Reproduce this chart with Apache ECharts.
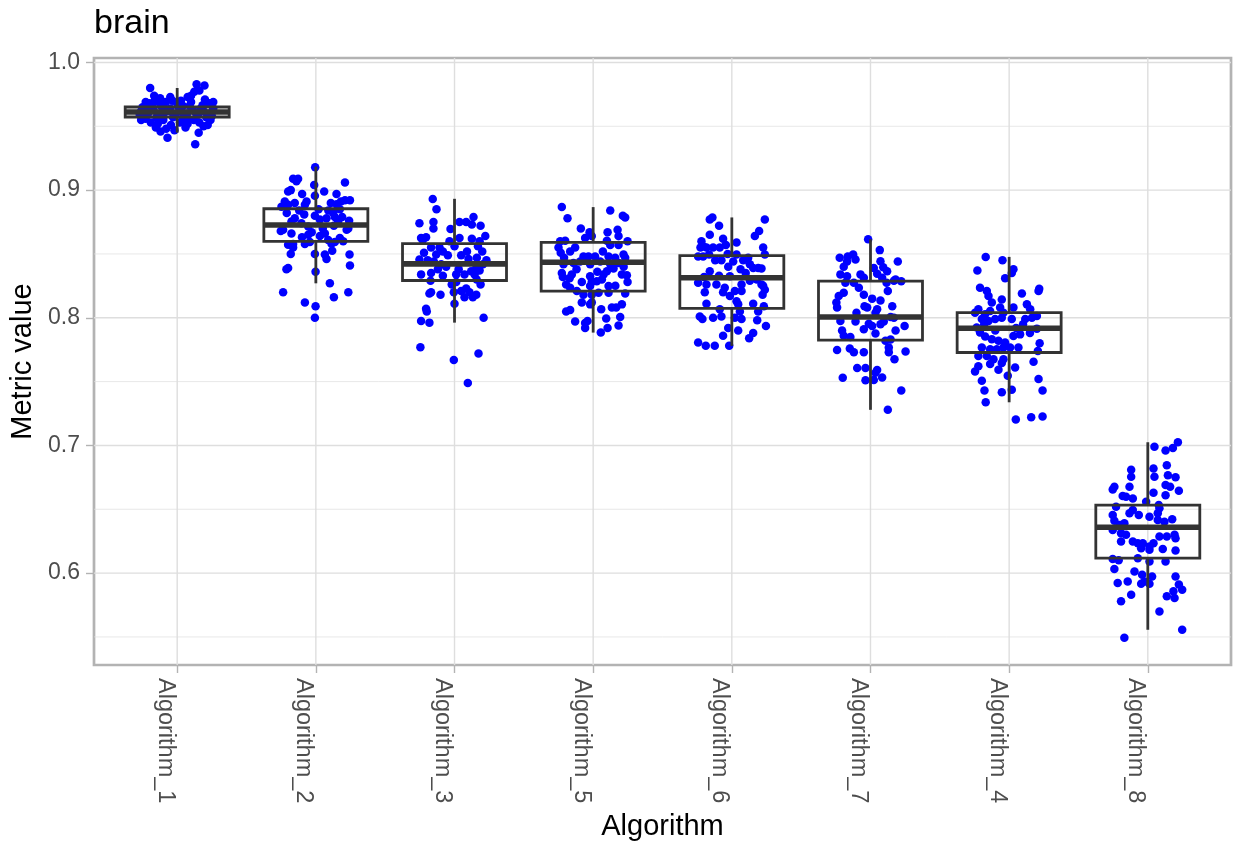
<!DOCTYPE html>
<html><head><meta charset="utf-8">
<script src="https://cdn.jsdelivr.net/npm/echarts@6/dist/echarts.min.js"></script>
<style>html,body{margin:0;padding:0;background:#fff}#chart{width:1235px;height:846px}</style>
</head><body><div id="chart"></div>
<script>
// ---------- data ----------
const chartTitle = 'brain';
const xTitle = 'Algorithm';
const yTitle = 'Metric value';
const categories = ['Algorithm_1','Algorithm_2','Algorithm_3','Algorithm_5','Algorithm_6','Algorithm_7','Algorithm_4','Algorithm_8'];
const yTicks = [0.6, 0.7, 0.8, 0.9, 1.0];
const yMinorTicks = [0.55, 0.65, 0.75, 0.85, 0.95];

// box statistics (lower whisker, Q1, median, Q3, upper whisker)
const boxMin    = [0.945, 0.827, 0.7962, 0.7884, 0.778, 0.7279, 0.7338, 0.5556];
const boxQ1     = [0.9573, 0.8599, 0.8292, 0.8209, 0.8074, 0.7825, 0.7728, 0.6117];
const boxMedian = [0.9612, 0.8727, 0.8422, 0.8435, 0.8313, 0.8006, 0.7918, 0.6359];
const boxQ3     = [0.9651, 0.8854, 0.8581, 0.8591, 0.8487, 0.8287, 0.8040, 0.6533];
const boxMax    = [0.980, 0.9184, 0.8932, 0.8867, 0.8786, 0.8615, 0.8477, 0.7025];

// jittered points: [horizontal jitter (category units), metric value]
const pts_Algorithm_1 = [[-0.195,0.980],[0.14,0.983],[0.197,0.982],[-0.166,0.974],[-0.123,0.972],[-0.135,0.969],[-0.227,0.969],[-0.25,0.965],[-0.07,0.941],[0.13,0.936],[0.155,0.945],[0.22,0.951],[0.16,0.953],[0.075,0.952],[0.04,0.955],[-0.045,0.951],[-0.08,0.948],[-0.12,0.946],[-0.154,0.949],[-0.19,0.953],[-0.227,0.956],[-0.034,0.970],[0.027,0.970],[0.075,0.973],[0.123,0.977],[0.16,0.978],[0.1,0.974],[0.231,0.968],[0.183,0.9665],[-0.082,0.969],[0.0,0.968],[0.04,0.966],
[-0.26,0.962],[-0.21,0.960],[-0.17,0.963],[-0.13,0.958],[-0.09,0.961],[-0.05,0.964],[-0.01,0.959],[0.03,0.962],[0.07,0.960],[0.11,0.963],[0.15,0.959],[0.19,0.962],[0.23,0.960],[0.26,0.964],[-0.24,0.958],[-0.18,0.966],[-0.11,0.965],[-0.03,0.957],[0.05,0.958],[0.09,0.966],[0.13,0.961],[0.21,0.957],[0.25,0.958],[-0.22,0.964],[-0.15,0.957],[-0.06,0.962],[0.01,0.965],[0.08,0.956],[0.17,0.964],[0.24,0.955],[-0.2,0.968],[-0.1,0.955],[0.02,0.953],[0.12,0.955],[0.19,0.950],[-0.26,0.955],[-0.14,0.952],[0.06,0.949],[-0.02,0.947],[0.2,0.971],[-0.05,0.973],[0.26,0.969],[-0.16,0.971],[0.1,0.969],[-0.27,0.959]];
const pts_Algorithm_2 = [[-0.005,0.918],[-0.164,0.909],[-0.128,0.909],[-0.14,0.907],[-0.181,0.900],[-0.2,0.899],[-0.012,0.904],[0.06,0.899],[0.21,0.906],[0.149,0.897],[-0.099,0.897],[-0.007,0.8955],[0.246,0.892],[0.21,0.892],[0.181,0.891],[0.149,0.889],[0.108,0.890],[-0.224,0.891],[-0.248,0.887],[-0.2,0.8885],[-0.152,0.890],[-0.079,0.8885],[-0.067,0.891],[-0.253,0.868],[-0.176,0.866],[-0.236,0.869],
[-0.007,0.880],[0.029,0.877],[0.077,0.878],[0.125,0.882],[0.173,0.885],[0.137,0.879],[-0.152,0.878],[-0.176,0.8755],[-0.104,0.874],[-0.055,0.8716],[-0.084,0.881],[0.161,0.8755],[0.222,0.869],[0.173,0.8625],[0.197,0.860],[0.137,0.8594],[0.234,0.870],
[-0.2,0.8573],[-0.164,0.8578],[-0.079,0.8578],[-0.043,0.8594],[-0.055,0.865],[0.029,0.864],[0.065,0.866],[0.113,0.858],[0.089,0.861],[-0.181,0.850],[-0.164,0.855],[-0.007,0.850],[0.065,0.8495],[0.077,0.846],[0.118,0.8526],[0.243,0.8495],[0.246,0.841],[-0.2,0.839],[-0.212,0.838],
[-0.002,0.836],[0.101,0.827],[-0.236,0.820],[0.13,0.816],[0.234,0.820],[-0.079,0.812],[-0.002,0.809],[-0.007,0.800],
[0.02,0.885],[0.09,0.884],[-0.12,0.884],[0.19,0.879],[-0.03,0.867],[0.05,0.870],[0.13,0.872],[-0.1,0.863],[0.24,0.876],[-0.21,0.882]];
const pts_Algorithm_3 = [[-0.157,0.893],[-0.13,0.885],[-0.253,0.874],[-0.152,0.875],[-0.152,0.870],[0.036,0.875],[0.084,0.875],[0.137,0.879],[0.125,0.873],[0.188,0.872],[-0.029,0.8695],[0.222,0.864],[-0.241,0.8625],[-0.205,0.863],[-0.229,0.861],
[-0.036,0.860],[0.036,0.8625],[0.125,0.862],[0.181,0.860],[0.169,0.856],[-0.169,0.855],[-0.108,0.855],[-0.084,0.852],[-0.132,0.8495],[-0.048,0.849],
[-0.253,0.8456],[-0.193,0.845],[-0.149,0.844],[-0.096,0.842],[0.048,0.849],[0.101,0.846],[0.161,0.847],[0.205,0.842],[0.157,0.839],[0.12,0.8365],
[-0.241,0.834],[-0.169,0.835],[-0.084,0.833],[0.012,0.834],[0.072,0.834],[0.145,0.834],[0.181,0.837],
[-0.173,0.829],[0.012,0.828],[0.188,0.826],[0.084,0.823],[0.048,0.821],[0.108,0.820],[-0.005,0.820],[-0.169,0.820],[-0.181,0.819],[-0.101,0.818],[0.157,0.818],[0.072,0.816],[0.132,0.816],
[0,0.811],[-0.205,0.807],[-0.2,0.805],[-0.241,0.7975],[-0.181,0.7962],[0.21,0.800],[-0.246,0.777],[-0.005,0.767],[0.173,0.772],[0.096,0.749],
[0.2,0.852],[-0.06,0.840],[0.03,0.838],[-0.12,0.838],[0.09,0.852],[0.16,0.830],[-0.22,0.851],[0.0,0.856],[-0.02,0.826],[0.23,0.845]];
const pts_Algorithm_5 = [[-0.226,0.8867],[-0.185,0.878],[0.123,0.884],[0.214,0.880],[0.231,0.8786],[-0.089,0.870],[-0.026,0.867],[-0.01,0.864],[-0.058,0.8625],[0.104,0.867],[0.176,0.869],[0.183,0.864],
[-0.238,0.860],[-0.202,0.8604],[0.099,0.8604],[0.248,0.860],[0.123,0.857],[0.183,0.857],
[-0.25,0.855],[-0.234,0.851],[-0.13,0.855],[-0.166,0.852],[-0.21,0.847],[-0.07,0.848],[-0.034,0.848],[0.014,0.848],[0.111,0.848],[0.159,0.847],[0.231,0.847],[0.219,0.8495],
[-0.214,0.842],[-0.142,0.843],[-0.094,0.844],[-0.022,0.842],[0.051,0.844],[0.123,0.842],[0.183,0.843],[0.147,0.8386],
[-0.226,0.835],[-0.219,0.832],[-0.154,0.834],[-0.022,0.8326],[0.099,0.8365],[0.075,0.834],[0.207,0.834],[0.248,0.828],[0.243,0.8334],
[-0.082,0.828],[-0.01,0.828],[0.026,0.8287],[0.063,0.830],[0.111,0.8248],[-0.022,0.8248],
[-0.195,0.826],[-0.166,0.8235],[-0.118,0.821],[-0.07,0.818],[-0.01,0.818],[0.039,0.8196],[0.111,0.8196],[0.231,0.819],
[-0.082,0.812],[-0.022,0.8105],[0.058,0.8066],[0.135,0.808],[0.166,0.808],[0.207,0.8105],[-0.195,0.805],[-0.166,0.806],
[-0.13,0.797],[-0.058,0.796],[-0.041,0.7975],[-0.058,0.792],[0.094,0.7994],[0.195,0.8007],[0.183,0.794],[0.104,0.792],[0.055,0.7885],[-0.01,0.812],
[0.07,0.852],[-0.12,0.838],[0.03,0.836],[0.16,0.825],[-0.17,0.831],[0.22,0.840]];
const pts_Algorithm_6 = [[-0.159,0.877],[-0.14,0.8786],[0.238,0.877],[-0.092,0.872],[0.197,0.868],[0.166,0.864],[-0.159,0.865],
[-0.219,0.860],[-0.207,0.856],[-0.226,0.855],[-0.183,0.855],[-0.135,0.855],[-0.087,0.855],[-0.063,0.862],[-0.043,0.857],[0.034,0.859],[0.226,0.855],[0.238,0.8495],
[0.034,0.8495],[0.082,0.845],[0.118,0.847],[0.13,0.842],[0.154,0.839],[0.19,0.839],[0.214,0.8386],[-0.207,0.848],[-0.243,0.848],[-0.164,0.8495],
[-0.075,0.845],[-0.026,0.840],[0.01,0.844],[0.063,0.838],[-0.159,0.8365],[-0.092,0.833],[-0.014,0.8326],[0.13,0.829],
[-0.243,0.8274],[-0.183,0.826],[-0.111,0.826],[-0.051,0.8235],[0.022,0.821],[0.226,0.825],[0.238,0.822],[0.222,0.818],[0.214,0.826],
[-0.195,0.820],[-0.063,0.820],[-0.014,0.817],[0.07,0.821],[-0.183,0.811],[0.034,0.813],[0.046,0.8105],[0.058,0.805],[0.154,0.811],[0.231,0.809],[-0.087,0.8066],[0.19,0.805],
[-0.231,0.801],[-0.212,0.799],[-0.135,0.800],[-0.075,0.801],[0.022,0.800],[0.07,0.799],[0.183,0.798],[0.246,0.7936],
[-0.026,0.792],[0.046,0.790],[-0.063,0.786],[0.154,0.788],[0.125,0.784],[-0.243,0.7806],[-0.188,0.778],[-0.123,0.778],[-0.019,0.778],
[0.1,0.835],[-0.03,0.850],[0.18,0.830],[-0.12,0.845],[0.07,0.826],[-0.2,0.832]];
const pts_Algorithm_7 = [[-0.017,0.8615],[0.067,0.853],[-0.222,0.847],[-0.164,0.848],[-0.125,0.8495],[-0.108,0.8456],[-0.193,0.840],[-0.169,0.844],
[0.197,0.844],[0.072,0.8443],[0.024,0.839],[0.092,0.8396],[0.12,0.8365],[-0.217,0.834],[-0.169,0.8326],[-0.072,0.834],[-0.048,0.8313],[0.048,0.8344],[0.084,0.8313],
[0.181,0.830],[0.222,0.8287],[0.116,0.8274],[0.169,0.829],[-0.181,0.8274],[-0.12,0.8274],[-0.084,0.8235],[0.125,0.821],
[-0.193,0.8196],[-0.229,0.817],[-0.246,0.812],[-0.241,0.808],[-0.048,0.818],[0.012,0.815],[0.072,0.8136],[-0.043,0.809],[0.157,0.809],[0.048,0.8066],[0.036,0.804],[-0.024,0.808],
[-0.101,0.804],[0.145,0.8006],[0.096,0.797],[0.169,0.800],[0.246,0.7936],[0.181,0.790],[-0.217,0.7975],[-0.108,0.797],[-0.012,0.7954],[-0.048,0.791],[0.012,0.7936],[0.072,0.795],
[-0.205,0.790],[-0.193,0.786],[-0.145,0.785],[0.036,0.7876],[0.145,0.783],[0.108,0.782],
[-0.241,0.7747],[-0.149,0.776],[-0.12,0.773],[-0.048,0.773],[0.132,0.7767],[0.132,0.773],[0.253,0.7736],
[0.173,0.7676],[-0.096,0.7606],[-0.036,0.7606],[0.048,0.759],[0.036,0.757],[-0.2,0.753],[-0.036,0.751],[0.024,0.7513],[0.084,0.7533],[0.222,0.743],[0.125,0.7279]];
const pts_Algorithm_4 = [[-0.169,0.8477],[-0.048,0.845],[-0.229,0.837],[0.031,0.838],[0.019,0.835],[-0.029,0.831],
[-0.21,0.8235],[-0.161,0.821],[-0.149,0.817],[-0.125,0.812],[-0.053,0.8144],[0.217,0.8227],[0.212,0.821],[0.092,0.819],
[-0.222,0.8066],[-0.246,0.804],[-0.173,0.8027],[-0.137,0.8053],[-0.065,0.808],[-0.041,0.804],[0.031,0.808],[0.128,0.8105],[0.152,0.8066],
[-0.197,0.799],[-0.149,0.7975],[-0.101,0.799],[-0.053,0.800],[0.019,0.799],[0.116,0.799],[0.164,0.800],[0.2,0.8014],
[-0.21,0.7884],[-0.173,0.7853],[-0.125,0.7832],[-0.077,0.782],[-0.029,0.7806],[0.031,0.7858],[0.079,0.787],[-0.234,0.7923],[0.2,0.7915],
[-0.197,0.7767],[-0.137,0.7754],[-0.089,0.7754],[-0.041,0.7767],[0.007,0.7767],[0.067,0.7767],
[-0.222,0.770],[-0.161,0.770],[-0.113,0.7676],[-0.041,0.7676],[-0.053,0.7645],[-0.137,0.7637],[-0.077,0.7593],[-0.222,0.762],[-0.246,0.758],
[0.176,0.7656],[0.043,0.761],[-0.01,0.7546],[0.207,0.774],[-0.197,0.7507],[-0.178,0.743],[-0.053,0.7416],[0.019,0.7437],[0.241,0.743],[0.212,0.752],[-0.169,0.7338],
[0.048,0.7203],[0.159,0.722],[0.241,0.7227],
[0.1,0.795],[-0.1,0.790],[0.15,0.788],[-0.18,0.795],[0.05,0.792],[0.22,0.780]];
const pts_Algorithm_8 = [[0.217,0.7025],[0.181,0.698],[0.128,0.696],[0.048,0.699],[0.137,0.6845],[-0.12,0.681],[-0.12,0.6754],[0.041,0.682],[0.048,0.6754],[0.145,0.6767],[0.2,0.675],
[-0.241,0.6676],[-0.253,0.6655],[-0.132,0.6676],[0.041,0.663],[0.128,0.669],[0.161,0.6676],[0.224,0.6645],[0.128,0.661],
[-0.181,0.6603],[-0.157,0.6598],[-0.108,0.6585],[-0.012,0.6559],[0.079,0.6533],
[-0.229,0.652],[-0.253,0.6455],[-0.241,0.641],[-0.253,0.6338],[-0.205,0.6377],[-0.169,0.639],[-0.132,0.6468],[-0.108,0.6494],[-0.065,0.6455],
[0.012,0.6442],[0.072,0.6468],[0.072,0.6416],[0.12,0.6403],[0.176,0.6421],[0.084,0.6507],
[-0.193,0.6312],[-0.157,0.630],[-0.108,0.6247],[-0.072,0.6234],[-0.036,0.6234],[0.012,0.6208],[0.041,0.6234],[0.084,0.6286],[0.137,0.6286],[0.193,0.630],[0.2,0.6273],
[-0.193,0.6247],[-0.048,0.6195],[0.012,0.6182],[0.108,0.6188],[0.2,0.6177],
[-0.253,0.611],[-0.21,0.610],[-0.072,0.6117],[0.012,0.609],[0.128,0.609],
[-0.241,0.6032],[-0.096,0.6013],[-0.041,0.5987],[0.031,0.5974],[-0.024,0.5935],[-0.048,0.5917],[0.012,0.5917],[-0.145,0.5935],[-0.217,0.5922],
[0.2,0.5974],[0.224,0.591],[0.248,0.587],[0.185,0.5857],[0.193,0.5805],[0.137,0.5818],
[-0.12,0.5831],[-0.193,0.578],[0.084,0.570],[0.248,0.5556],[-0.169,0.5494]];

// ---------- chart ----------
const FONT = '"Liberation Sans", Arial, Helvetica, sans-serif';
const X_MIN = 0.4, X_MAX = 8.6, Y_MIN = 0.528, Y_MAX = 1.0035;
const BOX_HALF = 0.375;
const pointGroups = [pts_Algorithm_1, pts_Algorithm_2, pts_Algorithm_3, pts_Algorithm_5, pts_Algorithm_6, pts_Algorithm_7, pts_Algorithm_4, pts_Algorithm_8];
const catPos = categories.map((c, i) => i + 1);

const scatterData = [];
pointGroups.forEach((g, i) => g.forEach(p => scatterData.push([catPos[i] + p[0], p[1]])));

const boxData = categories.map((c, i) => [catPos[i], boxMin[i], boxQ1[i], boxMedian[i], boxQ3[i], boxMax[i]]);

const gridData = [];
catPos.forEach(v => gridData.push([0, v, 1]));
yTicks.forEach(v => gridData.push([1, v, 1]));
yMinorTicks.forEach(v => gridData.push([1, v, 0]));

const chart = echarts.init(document.getElementById('chart'), null, {renderer: 'canvas'});
const option = {
  animation: false,
  backgroundColor: '#ffffff',
  title: {
    text: chartTitle, left: 89, top: 2,
    textStyle: {fontFamily: FONT, fontSize: 34, fontWeight: 'normal', color: '#000000'}
  },
  grid: {left: 94, right: 4, top: 58, bottom: 179, show: true, borderColor: '#B3B3B3', borderWidth: 2.7, backgroundColor: 'transparent'},
  xAxis: {
    type: 'value', min: X_MIN, max: X_MAX,
    name: xTitle, nameLocation: 'middle', nameGap: 147,
    nameTextStyle: {fontFamily: FONT, fontSize: 29, color: '#000000'},
    axisLine: {show: false},
    axisTick: {show: true, customValues: catPos, length: 8, lineStyle: {color: '#B3B3B3', width: 1.4}},
    axisLabel: {
      customValues: catPos,
      formatter: v => categories[Math.round(v) - 1],
      rotate: -90, align: 'left', verticalAlign: 'top', margin: 13,
      fontFamily: FONT, fontSize: 23.5, color: '#4D4D4D'
    },
    splitLine: {show: false}
  },
  yAxis: {
    type: 'value', min: Y_MIN, max: Y_MAX,
    name: yTitle, nameLocation: 'middle', nameGap: 52,
    nameTextStyle: {fontFamily: FONT, fontSize: 29, color: '#000000'},
    axisLine: {show: false},
    axisTick: {show: true, customValues: yTicks, length: 8, lineStyle: {color: '#B3B3B3', width: 1.4}},
    axisLabel: {
      customValues: yTicks,
      formatter: v => v.toFixed(1),
      margin: 14, fontFamily: FONT, fontSize: 23, color: '#4D4D4D'
    },
    splitLine: {show: false}
  },
  series: [
    {
      type: 'custom', z: 1, silent: true, data: gridData,
      renderItem: function (params, api) {
        const o = api.value(0), v = api.value(1), major = api.value(2);
        let p1, p2;
        if (o === 0) { p1 = api.coord([v, Y_MIN]); p2 = api.coord([v, Y_MAX]); }
        else { p1 = api.coord([X_MIN, v]); p2 = api.coord([X_MAX, v]); }
        return {type: 'line', shape: {x1: p1[0], y1: p1[1], x2: p2[0], y2: p2[1]},
                style: {stroke: '#DEDEDE', lineWidth: major ? 1.4 : 0.7}};
      }
    },
    {
      type: 'scatter', z: 2, silent: true, data: scatterData,
      symbol: 'circle', symbolSize: 8.5,
      itemStyle: {color: '#0000FF', opacity: 1}
    },
    {
      type: 'custom', z: 3, silent: true, data: boxData,
      renderItem: function (params, api) {
        const x = api.value(0);
        const cMin = api.coord([x, api.value(1)]);
        const cQ1 = api.coord([x, api.value(2)]);
        const cMed = api.coord([x, api.value(3)]);
        const cQ3 = api.coord([x, api.value(4)]);
        const cMax = api.coord([x, api.value(5)]);
        const left = api.coord([x - BOX_HALF, api.value(3)])[0];
        const right = api.coord([x + BOX_HALF, api.value(3)])[0];
        const st = {stroke: '#333333', lineWidth: 2.8, fill: 'none'};
        return {type: 'group', children: [
          {type: 'line', shape: {x1: cMax[0], y1: cMax[1], x2: cQ3[0], y2: cQ3[1]}, style: st},
          {type: 'line', shape: {x1: cQ1[0], y1: cQ1[1], x2: cMin[0], y2: cMin[1]}, style: st},
          {type: 'rect', shape: {x: left, y: cQ3[1], width: right - left, height: cQ1[1] - cQ3[1]}, style: st},
          {type: 'line', shape: {x1: left, y1: cMed[1], x2: right, y2: cMed[1]}, style: {stroke: '#333333', lineWidth: 5.6}}
        ]};
      }
    }
  ]
};
chart.setOption(option);
</script>
</body></html>
